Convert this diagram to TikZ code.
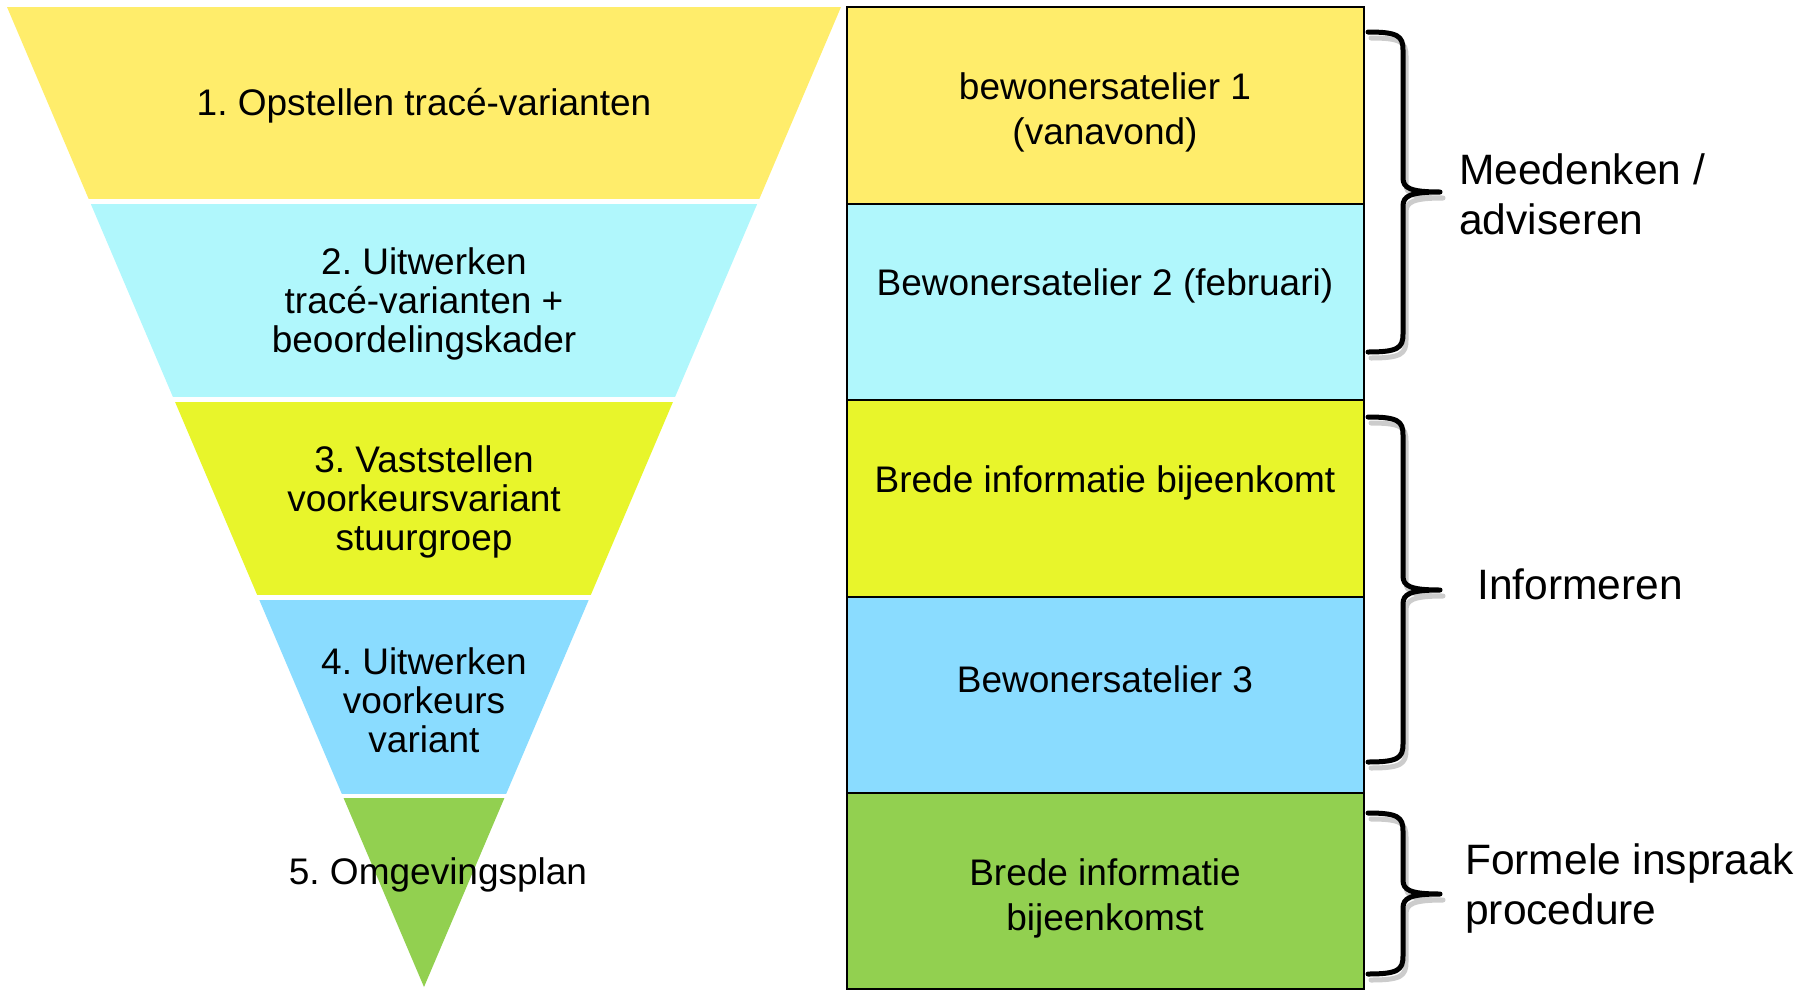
\documentclass[tikz,border=0pt]{standalone}
\usepackage{fontspec}
\setmainfont{Liberation Sans}
\frenchspacing

\definecolor{geel}{RGB}{255,237,107}
\definecolor{lichtblauw}{RGB}{176,247,252}
\definecolor{limoen}{RGB}{232,245,43}
\definecolor{hemelblauw}{RGB}{138,220,255}
\definecolor{groen}{RGB}{146,208,80}

\begin{document}
\begin{tikzpicture}[%
            x=1pt, y=-1pt,
            stap/.style={align=center, inner sep=0pt, font=\fontsize{37}{39}\selectfont},
            vak/.style={draw=black, line width=2.5pt},
            vaktekst/.style={align=center, inner sep=0pt, font=\fontsize{37}{45}\selectfont},
            rol/.style={anchor=west, align=left, inner sep=0pt, font=\fontsize{42.5}{50}\selectfont},
            accolade/.style={line width=5pt, line cap=round, line join=round},
            schaduw/.style={accolade, draw=black!20, shift={(3,6)}}
    ]
        \useasboundingbox (0,0) rectangle (1806,994);

        % trechter met vijf stappen
        \begin{scope}
            \clip (7,7) -- (841,7) -- (424,987) -- cycle;
            \fill [geel] (0,7) rectangle (850,199);
            \fill [lichtblauw] (0,204) rectangle (850,397);
            \fill [limoen] (0,402) rectangle (850,595);
            \fill [hemelblauw] (0,600) rectangle (850,794);
            \fill [groen] (0,798) rectangle (850,990);
        \end{scope}

        \node [stap] (stap1) at (424,106) {1. Opstellen tracé-varianten};
        \node [stap] (stap2) at (424,304) {2. Uitwerken\\tracé-varianten +\\beoordelingskader};
        \node [stap] (stap3) at (424,502) {3. Vaststellen\\voorkeursvariant\\stuurgroep};
        \node [stap] (stap4) at (424,700) {4. Uitwerken\\voorkeurs\\variant};
        \node [stap] (stap5) at (438,875) {5. Omgevingsplan};

        % bijeenkomsten
        \filldraw [vak, fill=geel] (847,7) rectangle (1364,204);
        \filldraw [vak, fill=lichtblauw] (847,204) rectangle (1364,400);
        \filldraw [vak, fill=limoen] (847,400) rectangle (1364,597);
        \filldraw [vak, fill=hemelblauw] (847,597) rectangle (1364,793);
        \filldraw [vak, fill=groen] (847,793) rectangle (1364,989);

        \node [vaktekst] (vak1) at (1105,112) {bewonersatelier 1\\(vanavond)};
        \node [vaktekst] (vak2) at (1105,286) {Bewonersatelier 2 (februari)};
        \node [vaktekst] (vak3) at (1105,483) {Brede informatie bijeenkomt};
        \node [vaktekst] (vak4) at (1105,679) {Bewonersatelier 3};
        \node [vaktekst] (vak5) at (1105,898) {Brede informatie\\bijeenkomst};

        % accolades
        \foreach \stijl in {schaduw, accolade} {
            \draw [\stijl]
                (1368,32) .. controls (1398,32) and (1403,36) .. (1403,50) -- (1403,178)
                .. controls (1403,188) and (1410,192) .. (1440,192)
                (1440,192) .. controls (1410,192) and (1403,196) .. (1403,206) -- (1403,334)
                .. controls (1403,348) and (1398,352) .. (1368,352);
            \draw [\stijl]
                (1368,417) .. controls (1398,417) and (1403,421) .. (1403,435) -- (1403,576)
                .. controls (1403,586) and (1410,590) .. (1440,590)
                (1440,590) .. controls (1410,590) and (1403,594) .. (1403,604) -- (1403,744)
                .. controls (1403,758) and (1398,762) .. (1368,762);
            \draw [\stijl]
                (1368,813) .. controls (1398,813) and (1403,817) .. (1403,831) -- (1403,880)
                .. controls (1403,890) and (1410,894) .. (1440,894)
                (1440,894) .. controls (1410,894) and (1403,898) .. (1403,908) -- (1403,956)
                .. controls (1403,970) and (1398,974) .. (1368,974);
        }

        \node [rol] (meedenken) at (1459,194) {Meedenken /\\adviseren};
        \node [rol] (informeren) at (1477,584) {Informeren};
        \node [rol] (inspraak) at (1465,888) {Formele inspraak\\procedure};
    \end{tikzpicture}
\end{document}
